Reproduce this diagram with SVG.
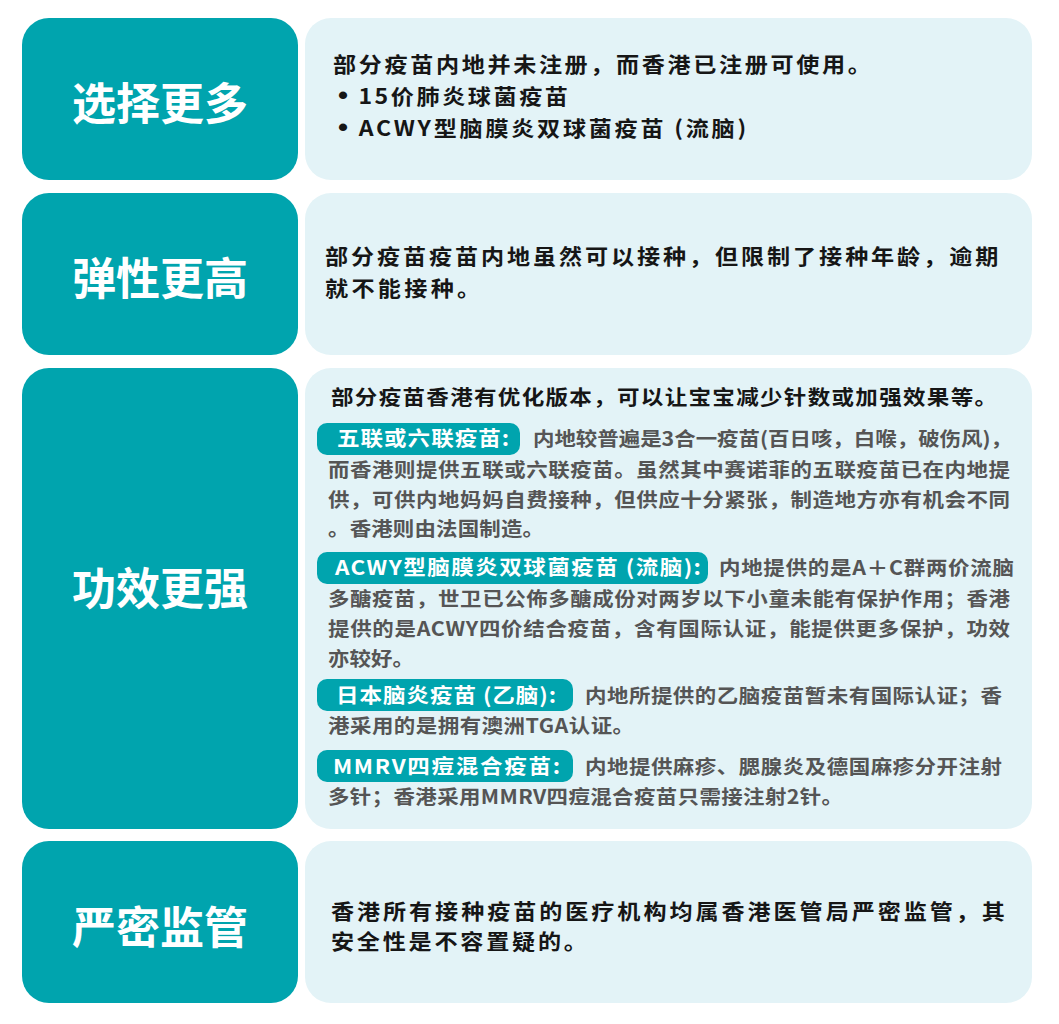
<svg xmlns="http://www.w3.org/2000/svg" width="1059" height="1024" viewBox="0 0 1059 1024">
<style>
.lbl{fill:#00A4AE}
.card{fill:#E3F3F7}
.badge{fill:#00A4AE}
.t{font-family:"Noto Sans CJK SC","Liberation Sans",sans-serif;font-weight:bold}
.head{font-size:44px;fill:#ffffff;text-anchor:middle}
.body{font-size:21px;fill:#161616}
.hdr{font-size:20.5px;fill:#161616}
.det{font-size:19.5px;fill:#555555}
.bt{font-size:20.5px;fill:#ffffff}
.bul{font-family:"Liberation Sans",sans-serif;font-size:26px}
</style>
<rect width="1059" height="1024" fill="#ffffff"/>
<g id="connectors"/>
<g id="row1">
<rect class="lbl" x="22" y="18" width="276" height="162" rx="27"/>
<text class="t head" x="160" y="120">选择更多</text>
<rect class="card" x="305" y="18" width="727" height="162" rx="26"/>
<g transform="scale(1.1 1)">
<text class="t body" x="302.7" y="72" textLength="489">部分疫苗内地并未注册，而香港已注册可使用。</text>
<text class="t body" x="307.3" y="104" textLength="209"><tspan class="bul">•</tspan> 15价肺炎球菌疫苗</text>
<text class="t body" x="307.3" y="136" textLength="371"><tspan class="bul">•</tspan> ACWY型脑膜炎双球菌疫苗 (流脑)</text>
</g>
</g>
<g id="row2">
<rect class="lbl" x="22" y="193" width="276" height="162" rx="27"/>
<text class="t head" x="160" y="295">弹性更高</text>
<rect class="card" x="305" y="193" width="727" height="162" rx="26"/>
<g transform="scale(1.1 1)">
<text class="t body" x="295.5" y="264" textLength="612">部分疫苗疫苗内地虽然可以接种，但限制了接种年龄，逾期</text>
<text class="t body" x="295.5" y="296" textLength="141">就不能接种。</text>
</g>
</g>
<g id="row3">
<rect class="lbl" x="22" y="368" width="276" height="461" rx="27"/>
<text class="t head" x="160" y="605">功效更强</text>
<rect class="card" x="305" y="368" width="727" height="461" rx="26"/>
<rect class="badge" x="317" y="423" width="203" height="32" rx="10"/>
<rect class="badge" x="317" y="552" width="391" height="32" rx="10"/>
<rect class="badge" x="317" y="679" width="256" height="32" rx="10"/>
<rect class="badge" x="317" y="750" width="256" height="32" rx="10"/>
<g transform="scale(1.1 1)">
<text class="t hdr" x="300.9" y="405" textLength="605.5">部分疫苗香港有优化版本，可以让宝宝减少针数或加强效果等。</text>
<g id="item1">
<text class="t bt" x="306.4" y="446" textLength="156.4">五联或六联疫苗:</text>
<text class="t det" x="484.5" y="446" textLength="435.5">内地较普遍是3合一疫苗(百日咳，白喉，破伤风)，</text>
<text class="t det" x="298.2" y="477" textLength="620">而香港则提供五联或六联疫苗。虽然其中赛诺菲的五联疫苗已在内地提</text>
<text class="t det" x="298.2" y="507" textLength="620">供，可供内地妈妈自费接种，但供应十分紧张，制造地方亦有机会不同</text>
<text class="t det" x="298.2" y="536" textLength="196.4">。香港则由法国制造。</text>
</g>
<g id="item2">
<text class="t bt" x="304.5" y="575" textLength="332.7">ACWY型脑膜炎双球菌疫苗 (流脑):</text>
<text class="t det" x="653.6" y="575" textLength="268.2">内地提供的是A＋C群两价流脑</text>
<text class="t det" x="298.2" y="606" textLength="620">多醣疫苗，世卫已公佈多醣成份对两岁以下小童未能有保护作用；香港</text>
<text class="t det" x="298.2" y="636" textLength="620">提供的是ACWY四价结合疫苗，含有国际认证，能提供更多保护，功效</text>
<text class="t det" x="298.2" y="666" textLength="78.2">亦较好。</text>
</g>
<g id="item3">
<text class="t bt" x="305.5" y="703" textLength="200">日本脑炎疫苗 (乙脑):</text>
<text class="t det" x="531.8" y="703" textLength="379.1">内地所提供的乙脑疫苗暂未有国际认证；香</text>
<text class="t det" x="298.2" y="733" textLength="278.2">港采用的是拥有澳洲TGA认证。</text>
</g>
<g id="item4">
<text class="t bt" x="302.7" y="774" textLength="206.4">MMRV四痘混合疫苗:</text>
<text class="t det" x="531.8" y="774" textLength="379.1">内地提供麻疹、腮腺炎及德国麻疹分开注射</text>
<text class="t det" x="298.2" y="804" textLength="468.2">多针；香港采用MMRV四痘混合疫苗只需接注射2针。</text>
</g>
</g>
</g>
<g id="row4">
<rect class="lbl" x="22" y="841" width="276" height="162" rx="27"/>
<text class="t head" x="160" y="944">严密监管</text>
<rect class="card" x="305" y="841" width="727" height="162" rx="26"/>
<g transform="scale(1.1 1)">
<text class="t body" x="300.9" y="919" textLength="612.7">香港所有接种疫苗的医疗机构均属香港医管局严密监管，其</text>
<text class="t body" x="300.9" y="949" textLength="232.7">安全性是不容置疑的。</text>
</g>
</g>
</svg>
